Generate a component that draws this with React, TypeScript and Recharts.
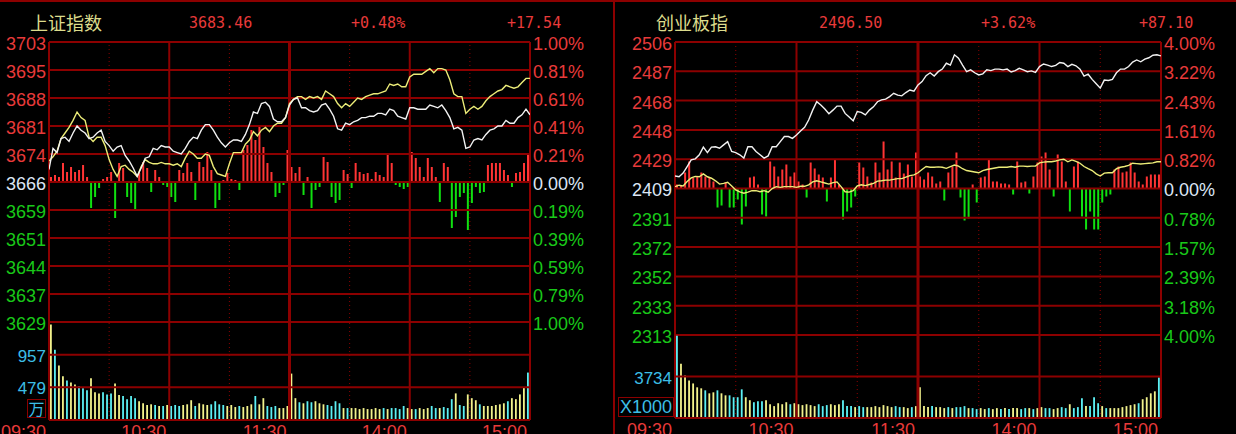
import { Bar, Cell, ComposedChart, Line, ReferenceLine, XAxis, YAxis } from "recharts";

// 时间轴
const timeTicks = [0, 60, 120, 180, 240];
const timeLabels = ["09:30", "10:30", "11:30", "14:00", "15:00"];
const gridMinutes = [0, 30, 60, 90, 120, 150, 180, 210, 240];

// 上证指数
const shHeader = ["上证指数", "3683.46", "+0.48%", "+17.54"];
const shPriceLabels = ["3703", "3695", "3688", "3681", "3674", "3666", "3659", "3651", "3644", "3637", "3629"];
const shPctLabels = ["1.00%", "0.81%", "0.61%", "0.41%", "0.21%", "0.00%", "0.19%", "0.39%", "0.59%", "0.79%", "1.00%"];
const shVolTicks = [479, 957];
const shVolLabels = ["479", "957"];
// % change vs prev close, every 2 minutes
const shPrice = [
  0.09, 0.24, 0.21, 0.31, 0.32, 0.29, 0.35, 0.4, 0.37, 0.35,
  0.31, 0.32, 0.35, 0.37, 0.29, 0.26, 0.22, 0.25, 0.26, 0.19,
  0.15, 0.1, 0.04, 0.1, 0.17, 0.18, 0.24, 0.23, 0.26, 0.25,
  0.25, 0.22, 0.21, 0.2, 0.24, 0.29, 0.32, 0.31, 0.37, 0.41,
  0.41, 0.37, 0.32, 0.28, 0.25, 0.28, 0.3, 0.3, 0.29, 0.34,
  0.41, 0.5, 0.49, 0.56, 0.57, 0.54, 0.45, 0.43, 0.43, 0.46,
  0.55, 0.59, 0.6, 0.53, 0.53, 0.51, 0.5, 0.51, 0.55, 0.56,
  0.52, 0.47, 0.38, 0.37, 0.42, 0.41, 0.43, 0.44, 0.46, 0.46,
  0.47, 0.47, 0.49, 0.49, 0.48, 0.52, 0.51, 0.47, 0.46, 0.45,
  0.53, 0.53, 0.52, 0.52, 0.52, 0.55, 0.54, 0.53, 0.55, 0.51,
  0.46, 0.38, 0.39, 0.37, 0.24, 0.25, 0.3, 0.31, 0.3, 0.34,
  0.37, 0.38, 0.4, 0.4, 0.44, 0.42, 0.42, 0.46, 0.48, 0.52,
  0.48,
];
const shAvg = [
  0.15, 0.18, 0.22, 0.31, 0.35, 0.39, 0.44, 0.5, 0.46, 0.44,
  0.32, 0.29, 0.32, 0.32, 0.26, 0.16, 0.09, 0.04, 0.11, 0.12,
  0.09, 0.07, 0.04, 0.11, 0.16, 0.14, 0.13, 0.13, 0.14, 0.13,
  0.13, 0.12, 0.13, 0.11, 0.17, 0.22, 0.2, 0.17, 0.17, 0.2,
  0.19, 0.11, 0.06, 0.05, 0.04, 0.13, 0.21, 0.21, 0.21, 0.27,
  0.3, 0.36, 0.33, 0.37, 0.39, 0.36, 0.4, 0.42, 0.42, 0.46,
  0.56, 0.59, 0.61, 0.61, 0.59, 0.61, 0.6, 0.61, 0.59, 0.65,
  0.63, 0.61, 0.56, 0.53, 0.56, 0.54, 0.57, 0.6, 0.59, 0.61,
  0.62, 0.63, 0.63, 0.64, 0.65, 0.7, 0.69, 0.7, 0.68, 0.68,
  0.75, 0.77, 0.77, 0.77, 0.79, 0.81, 0.78, 0.81, 0.81, 0.8,
  0.73, 0.63, 0.61, 0.61, 0.49, 0.52, 0.54, 0.52, 0.54, 0.58,
  0.61, 0.63, 0.65, 0.66, 0.69, 0.68, 0.67, 0.68, 0.71, 0.74,
  0.74,
];
const shFlow = [
  5, 7, 5, 19, 10, 15, 10, 12, 17, 5,
  -26, -15, -6, 3, 5, 10, -36, 19, 14, -15,
  -21, -28, 9, 20, 14, -10, 12, 5, -3, -5,
  -15, -20, 12, 9, 19, 10, -18, 20, 15, 30,
  12, -26, -18, 2, 9, 3, 2, -8, 32, 37,
  52, 42, 55, 35, 19, 10, -15, -11, -3, 32,
  15, 9, 15, -13, 5, -26, -8, -5, 25, 20,
  -15, -21, -18, 12, 8, -6, 19, 10, 8, 9,
  3, 10, 7, 5, 27, 19, -3, -5, -7, -5,
  30, 24, 15, 5, 24, 15, 5, -20, 19, 15,
  -46, -35, -15, -11, -48, -21, -5, -11, -10, 17,
  19, 19, 19, 12, 7, -5, 9, 10, 19, 29,
];
// 万
const shVol = [
  1400, 1030, 800, 640, 580, 550, 520, 495, 465, 435,
  610, 405, 390, 405, 375, 390, 535, 365, 350, 305,
  350, 320, 275, 245, 220, 230, 220, 205, 205, 220,
  205, 220, 205, 220, 230, 290, 205, 245, 230, 220,
  230, 275, 230, 220, 205, 220, 190, 205, 190, 205,
  230, 350, 230, 320, 205, 190, 205, 175, 175, 205,
  680, 320, 260, 245, 275, 260, 275, 245, 230, 220,
  205, 275, 245, 175, 175, 175, 175, 160, 175, 160,
  160, 175, 160, 175, 160, 175, 175, 160, 205, 175,
  160, 160, 175, 160, 175, 205, 175, 175, 190, 175,
  305, 390, 220, 205, 375, 320, 290, 230, 205, 205,
  205, 220, 230, 245, 275, 320, 305, 375, 470, 695,
];

// 创业板指
const cyHeader = ["创业板指", "2496.50", "+3.62%", "+87.10"];
const cyPriceLabels = ["2506", "2487", "2468", "2448", "2429", "2409", "2391", "2372", "2352", "2333", "2313"];
const cyPctLabels = ["4.00%", "3.22%", "2.43%", "1.61%", "0.82%", "0.00%", "0.78%", "1.57%", "2.39%", "3.18%", "4.00%"];
const cyVolTicks = [3734];
const cyVolLabels = ["3734"];
const cyPrice = [
  0.34, 0.32, 0.42, 0.6, 0.78, 0.81, 0.92, 1.13, 0.98, 1.13,
  1.14, 1.1, 1.19, 1.28, 1.01, 0.98, 0.92, 0.83, 1.14, 1.14,
  1.01, 0.92, 0.83, 0.89, 1.14, 1.14, 1.28, 1.42, 1.42, 1.37,
  1.46, 1.57, 1.67, 1.87, 2.14, 2.37, 2.28, 2.17, 2.04, 2.14,
  2.25, 2.25, 2.05, 1.95, 1.85, 2.1, 2.08, 2.01, 2.14, 2.23,
  2.37, 2.42, 2.44, 2.51, 2.6, 2.55, 2.53, 2.62, 2.69, 2.66,
  2.83, 2.92, 3.08, 3.16, 3.07, 3.19, 3.26, 3.42, 3.37, 3.65,
  3.56, 3.37, 3.19, 3.24, 3.16, 3.1, 3.13, 3.24, 3.22, 3.26,
  3.26, 3.24, 3.26, 3.18, 3.22, 3.28, 3.24, 3.19, 3.21, 3.17,
  3.33, 3.4, 3.37, 3.33, 3.36, 3.44, 3.42, 3.33, 3.39, 3.35,
  3.26, 3.07, 3.12, 2.98, 2.86, 2.74, 2.96, 2.95, 2.98, 3.16,
  3.26, 3.26, 3.33, 3.45, 3.51, 3.46, 3.53, 3.57, 3.64, 3.65,
  3.62,
];
const cyAvg = [
  0.05, 0.09, 0.07, 0.19, 0.29, 0.33, 0.32, 0.4, 0.32, 0.28,
  0.21, 0.12, 0.14, 0.17, 0.07, -0.04, -0.09, -0.13, -0.1, -0.06,
  -0.06, -0.09, -0.06, -0.1, 0.0, 0.05, 0.03, 0.05, 0.05, 0.05,
  0.03, 0.06, 0.06, 0.1, 0.18, 0.21, 0.18, 0.15, 0.12, 0.16,
  0.18, 0.05, -0.09, -0.1, -0.06, 0.07, 0.1, 0.08, 0.11, 0.14,
  0.2, 0.21, 0.23, 0.23, 0.25, 0.27, 0.27, 0.31, 0.35, 0.37,
  0.43, 0.52, 0.6, 0.58, 0.58, 0.59, 0.58, 0.55, 0.6, 0.64,
  0.61, 0.54, 0.49, 0.47, 0.45, 0.43, 0.49, 0.52, 0.54, 0.56,
  0.58, 0.58, 0.58, 0.6, 0.58, 0.61, 0.61, 0.6, 0.61, 0.61,
  0.7, 0.72, 0.73, 0.73, 0.75, 0.78, 0.8, 0.73, 0.78, 0.74,
  0.69, 0.6, 0.54, 0.49, 0.4, 0.34, 0.42, 0.43, 0.43, 0.54,
  0.58, 0.6, 0.63, 0.69, 0.68, 0.67, 0.68, 0.69, 0.7, 0.73,
  0.73,
];
const cyFlow = [
  4, 3, 16, 27, 11, 12, 16, 12, 11, 7,
  -19, -17, 6, -19, -19, -11, -36, -18, 11, 12,
  4, -26, -28, 27, 22, 12, 19, 24, 12, 16,
  7, 4, -9, 26, 20, 14, 11, -13, 11, 29,
  4, -31, -23, -19, -8, 26, 21, 12, 6, 26,
  16, 47, 19, 27, 11, 26, 15, 24, 12, 36,
  12, 9, 16, 12, 5, 7, -12, 16, 22, 36,
  -9, -32, -30, 4, -14, 11, 12, 29, 7, 7,
  5, 5, 4, -6, 27, 6, 7, -5, 12, 26,
  32, 36, 19, -8, 34, 27, 7, -23, 22, 27,
  -28, -41, -23, -41, -41, -14, -8, -6, 19, 22,
  16, 17, 26, 16, 7, 4, 12, 14, 14, 14,
];
// X1000
const cyVol = [
  7400, 4890, 3820, 3380, 3110, 2760, 2670, 2490, 2220, 2310,
  2490, 2220, 2040, 2040, 1870, 1870, 2580, 1870, 1600, 1420,
  1510, 1510, 1600, 1240, 1070, 1330, 1240, 1420, 1240, 1330,
  1240, 1160, 1240, 1160, 1070, 1240, 1070, 1160, 1240, 1160,
  1240, 1600, 1070, 1070, 980, 1070, 980, 980, 980, 1070,
  980, 1160, 1070, 980, 1070, 980, 980, 890, 980, 1070,
  2760, 1070, 980, 1070, 980, 980, 890, 980, 890, 980,
  980, 1070, 890, 890, 800, 890, 800, 890, 800, 890,
  800, 890, 800, 890, 890, 800, 890, 890, 800, 890,
  980, 890, 890, 800, 890, 980, 890, 1240, 890, 980,
  1780, 1070, 1070, 1870, 1330, 1070, 890, 890, 890, 890,
  980, 1070, 1160, 1240, 1330, 1690, 1870, 2220, 2400, 3650,
];

const GRID = "#8c0000";
const RED_TXT = "#e83a3a";
const GREEN_TXT = "#19c819";
const ZERO_TXT = "#dce6f5";
const CYAN_TXT = "#3cbee6";
const NAME_TXT = "#dcdc8c";
const WHITE_LINE = "#f2f2f2";
const YELLOW_LINE = "#ecec78";
const RED_BAR = "#ff3434";
const GREEN_BAR = "#10e010";
const VOL_UP = "#f2f28c";
const VOL_DOWN = "#5cf0f4";
const FONT = "'Liberation Sans', Arial, sans-serif";

type Row = { t: number; price?: number; avg?: number; flow?: number; vol?: number; up?: boolean };

const buildRows = (price: number[], avg: number[], flow: number[], vol: number[]): Row[] => {
  const rows: Row[] = [];
  for (let t = 0; t <= 240; t++) {
    if (t % 2 === 0) {
      rows.push({ t, price: price[t / 2], avg: avg[t / 2] });
    } else {
      const j = (t - 1) / 2;
      rows.push({ t, flow: flow[j], vol: vol[j], up: price[j + 1] >= price[j] });
    }
  }
  return rows;
};

// price / percent tick, coloured by side of the prev close
const LevelTick = (props: any) => {
  const { y, payload, lvLabels, lvMax, lvAnchor, lvX } = props;
  const k = Math.round((lvMax - payload.value) / (lvMax / 5));
  const fill = k < 5 ? RED_TXT : k === 5 ? ZERO_TXT : GREEN_TXT;
  return (
    <text x={lvX} y={y + 1.5} dy="0.36em" textAnchor={lvAnchor} fill={fill} fontSize={18} fontFamily={FONT}>
      {lvLabels[k]}
    </text>
  );
};

const VolTick = (props: any) => {
  const { y, payload, vtTicks, vtLabels, vtX } = props;
  const k = vtTicks.indexOf(payload.value);
  return (
    <text x={vtX} y={y + 1} dy="0.36em" textAnchor="end" fill={CYAN_TXT} fontSize={17} fontFamily={FONT}>
      {vtLabels[k]}
    </text>
  );
};

const TimeTick = (props: any) => {
  const { x, y, payload } = props;
  const k = timeTicks.indexOf(payload.value);
  return (
    <text x={x - 3} y={y + 18} textAnchor="end" fill={RED_TXT} fontSize={18} fontFamily={FONT}>
      {timeLabels[k]}
    </text>
  );
};

const renderVLines = (prefix: string) =>
  gridMinutes.map((m) => {
    const dotted = m % 60 === 30;
    return (
      <ReferenceLine
        key={`${prefix}-v${m}`}
        xAxisId="t"
        yAxisId={prefix}
        x={m}
        stroke={GRID}
        strokeWidth={dotted ? 1 : m === 120 ? 3 : 2}
        strokeDasharray={dotted ? "1 3" : undefined}
      />
    );
  });

type PanelProps = {
  left: number;
  width: number;
  plotLeft: number;
  plotRight: number;
  priceTop: number;
  priceBottom: number;
  volBottom: number;
  pctMax: number;
  flowMax: number;
  priceLabels: string[];
  pctLabels: string[];
  price: number[];
  avg: number[];
  flow: number[];
  vol: number[];
  volTicks: number[];
  volLabels: string[];
  volMax: number;
};

const Panel = (p: PanelProps) => {
  const rows = buildRows(p.price, p.avg, p.flow, p.vol);
  const pctTicks = Array.from({ length: 11 }, (_, k) => p.pctMax - (k * p.pctMax) / 5);
  const rightWidth = p.width - p.plotRight;
  return (
    <div style={{ position: "absolute", left: p.left, top: 0, width: p.width, height: 434 }}>
      <div style={{ position: "absolute", left: 0, top: 0 }}>
        <ComposedChart
          width={p.width}
          height={434}
          data={rows}
          margin={{ top: p.priceTop, bottom: 434 - p.priceBottom, left: 0, right: 0 }}
        >
          <XAxis xAxisId="t" dataKey="t" type="number" domain={[0, 240]} allowDataOverflow hide />
          <YAxis
            yAxisId="pct"
            orientation="left"
            width={p.plotLeft}
            domain={[-p.pctMax, p.pctMax]}
            allowDataOverflow
            ticks={pctTicks}
            interval={0}
            axisLine={false}
            tickLine={false}
            tick={<LevelTick lvLabels={p.priceLabels} lvMax={p.pctMax} lvAnchor="end" lvX={p.plotLeft - 3} />}
          />
          <YAxis
            yAxisId="pctR"
            orientation="right"
            width={rightWidth}
            domain={[-p.pctMax, p.pctMax]}
            allowDataOverflow
            ticks={pctTicks}
            interval={0}
            axisLine={false}
            tickLine={false}
            tick={<LevelTick lvLabels={p.pctLabels} lvMax={p.pctMax} lvAnchor="start" lvX={p.plotRight + 3} />}
          />
          <YAxis yAxisId="flow" hide domain={[-p.flowMax, p.flowMax]} allowDataOverflow />
          {pctTicks.map((v, k) => (
            <ReferenceLine key={`h${k}`} xAxisId="t" yAxisId="pct" y={v} stroke={GRID} strokeWidth={2} />
          ))}
          {renderVLines("pct")}
          <Bar xAxisId="t" yAxisId="flow" dataKey="flow" barSize={2} isAnimationActive={false}>
            {rows.map((r) => (
              <Cell key={`f${r.t}`} fill={(r.flow ?? 0) >= 0 ? RED_BAR : GREEN_BAR} />
            ))}
          </Bar>
          <Line
            xAxisId="t"
            yAxisId="pctR"
            dataKey="avg"
            stroke={YELLOW_LINE}
            strokeWidth={1.4}
            dot={false}
            connectNulls
            isAnimationActive={false}
          />
          <Line
            xAxisId="t"
            yAxisId="pct"
            dataKey="price"
            stroke={WHITE_LINE}
            strokeWidth={1.4}
            dot={false}
            connectNulls
            isAnimationActive={false}
          />
        </ComposedChart>
      </div>
      <div style={{ position: "absolute", left: 0, top: 0 }}>
        <ComposedChart
          width={p.width}
          height={434}
          data={rows}
          margin={{ top: p.priceBottom, bottom: 0, left: 0, right: 0 }}
        >
          <XAxis
            xAxisId="t"
            dataKey="t"
            type="number"
            domain={[0, 240]}
            allowDataOverflow
            ticks={timeTicks}
            interval={0}
            height={434 - p.volBottom}
            axisLine={false}
            tickLine={false}
            tickSize={0}
            tickMargin={0}
            tick={<TimeTick />}
          />
          <YAxis
            yAxisId="vol"
            orientation="left"
            width={p.plotLeft}
            domain={[0, p.volMax]}
            allowDataOverflow
            ticks={p.volTicks}
            interval={0}
            axisLine={false}
            tickLine={false}
            tick={<VolTick vtTicks={p.volTicks} vtLabels={p.volLabels} vtX={p.plotLeft - 3} />}
          />
          <YAxis
            yAxisId="volR"
            orientation="right"
            width={rightWidth}
            domain={[0, p.volMax]}
            allowDataOverflow
            tick={false}
            axisLine={false}
            tickLine={false}
          />
          {[0, ...p.volTicks].map((v) => (
            <ReferenceLine key={`vh${v}`} xAxisId="t" yAxisId="vol" y={v} stroke={GRID} strokeWidth={2} />
          ))}
          {renderVLines("vol")}
          <Bar xAxisId="t" yAxisId="vol" dataKey="vol" barSize={3} isAnimationActive={false}>
            {rows.map((r) => (
              <Cell key={`v${r.t}`} fill={r.up ? VOL_UP : VOL_DOWN} />
            ))}
          </Bar>
        </ComposedChart>
      </div>
    </div>
  );
};

const Header = ({ texts, xs }: { texts: string[]; xs: number[] }) => (
  <>
    <text x={xs[0]} y={30} fill={NAME_TXT} fontSize={18} fontFamily="'Noto Sans CJK SC', sans-serif">
      {texts[0]}
    </text>
    {texts.slice(1).map((s, k) => (
      <text key={s} x={xs[k + 1]} y={28} fill={RED_TXT} fontSize={15} fontFamily="'DejaVu Sans Mono', monospace">
        {s}
      </text>
    ))}
  </>
);

const App = () => (
  <div style={{ position: "fixed", left: 0, top: 0, width: 1236, height: 434, background: "#000", overflow: "hidden" }}>
    <svg width={1236} height={434} style={{ position: "absolute", left: 0, top: 0 }}>
      <rect x={0} y={0} width={1236} height={2} fill={GRID} />
      <rect x={613} y={0} width={2} height={434} fill={GRID} />
      <Header texts={shHeader} xs={[30, 189, 351, 507]} />
      <Header texts={cyHeader} xs={[656, 819, 981, 1139]} />
    </svg>
    <Panel
      left={0}
      width={613}
      plotLeft={49}
      plotRight={530}
      priceTop={42}
      priceBottom={322}
      volBottom={420}
      pctMax={1}
      flowMax={140}
      priceLabels={shPriceLabels}
      pctLabels={shPctLabels}
      price={shPrice}
      avg={shAvg}
      flow={shFlow}
      vol={shVol}
      volTicks={shVolTicks}
      volLabels={shVolLabels}
      volMax={1436}
    />
    <Panel
      left={613}
      width={623}
      plotLeft={62}
      plotRight={548}
      priceTop={42}
      priceBottom={335}
      volBottom={418}
      pctMax={4}
      flowMax={146.5}
      priceLabels={cyPriceLabels}
      pctLabels={cyPctLabels}
      price={cyPrice}
      avg={cyAvg}
      flow={cyFlow}
      vol={cyVol}
      volTicks={cyVolTicks}
      volLabels={cyVolLabels}
      volMax={7468}
    />
    <div
      style={{
        position: "absolute",
        left: 27,
        top: 399,
        width: 17,
        height: 17,
        border: `1px solid ${GRID}`,
        color: CYAN_TXT,
        fontSize: 16,
        lineHeight: "17px",
        textAlign: "center",
        fontFamily: "'Noto Sans CJK SC', sans-serif",
      }}
    >
      万
    </div>
    <div
      style={{
        position: "absolute",
        left: 618,
        top: 397,
        width: 54,
        height: 18,
        border: `1px solid ${GRID}`,
        color: CYAN_TXT,
        fontSize: 18,
        lineHeight: "18px",
        textAlign: "center",
        fontFamily: FONT,
      }}
    >
      X1000
    </div>
  </div>
);

export default App;
